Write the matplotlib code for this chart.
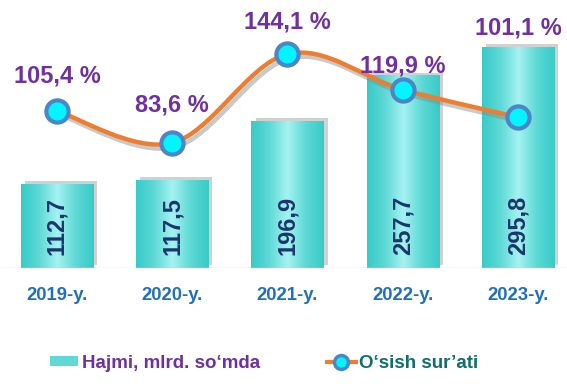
import numpy as np
import matplotlib
matplotlib.use("Agg")
import matplotlib.pyplot as plt
from matplotlib.path import Path
from matplotlib.patches import PathPatch, Patch
from matplotlib.lines import Line2D
import matplotlib.patheffects as pe
from matplotlib.colors import LinearSegmentedColormap

plt.rcParams['font.family'] = ['Liberation Sans', 'DejaVu Sans']

years = ["2019-y.", "2020-y.", "2021-y.", "2022-y.", "2023-y."]
volume = [112.7, 117.5, 196.9, 257.7, 295.8]
growth = [105.4, 83.6, 144.1, 119.9, 101.1]
volume_labels = ["112,7", "117,5", "196,9", "257,7", "295,8"]
growth_labels = ["105,4 %", "83,6 %", "144,1 %", "119,9 %", "101,1 %"]
legend_labels = ["Hajmi, mlrd. so‘mda", "O‘sish sur’ati"]

W, H = 567, 388
fig = plt.figure(figsize=(W/100, H/100), dpi=100)
base_px = 268
ax = fig.add_axes([0, (H-base_px)/H, 1, base_px/H])
ax2 = ax.twinx()
x = np.arange(len(years))
xl = (-57/115.25, (567-57)/115.25)
ax.set_xlim(*xl)
ax2.set_xlim(*xl)
ax.set_ylim(0, 268/0.747)
ax2.set_ylim(83.6 - 125/1.471, 83.6 + 143/1.471)
for a in (ax, ax2):
    a.set_axis_off()

# bars with gradient
bars = ax.bar(x, volume, width=0.625, color='#45D0CE', zorder=2,
              path_effects=[pe.SimplePatchShadow(offset=(3, 2), shadow_rgbFace='#999999', alpha=0.45), pe.Normal()])
cmap = LinearSegmentedColormap.from_list('c', ['#38CBC8', '#5ED9D6', '#A6F3F2', '#5ED9D6', '#38CBC8'])
grad = np.tile(np.linspace(0, 1, 64), (2, 1))
for b in bars:
    x0, y0, w, h = b.get_x(), b.get_y(), b.get_width(), b.get_height()
    im = ax.imshow(grad, cmap=cmap, extent=[x0, x0+w, y0, y0+h], aspect='auto', zorder=2.5, interpolation='bicubic')
    im.set_clip_path(b)
ax.set_xlim(*xl)
ax.set_ylim(0, 268/0.747)

for xi, lab in zip(x, volume_labels):
    ax.text(xi, 13/0.747, lab, rotation=90, ha='center', va='bottom', fontsize=17,
            fontweight='heavy', color='#1B356B', zorder=4)

# baseline
ax.axhline(0, color='#D0D0D0', lw=1, zorder=3)

# smooth line (Bezier, Excel-like)
P = np.column_stack([x, growth]).astype(float)
verts = [P[0]]
codes = [Path.MOVETO]
n = len(P)
for i in range(n-1):
    pm = P[i-1] if i > 0 else P[i]
    pp = P[i+2] if i+2 < n else P[i+1]
    c1 = P[i] + (P[i+1]-pm)/6
    c2 = P[i+1] - (pp-P[i])/6
    verts += [c1, c2, P[i+1]]
    codes += [Path.CURVE4]*3
path = Path(verts, codes)
ax2.add_patch(PathPatch(path, fill=False, edgecolor='#ED7D31', lw=3.2, zorder=5,
                        path_effects=[pe.SimpleLineShadow(offset=(2, -3), shadow_color='#888888', alpha=0.45), pe.Normal()]))
ax2.plot(x, growth, ls='none', marker='o', ms=16, mfc='#00F5FF', mec='#4C86C6', mew=3, zorder=6)

offsets_px = [35, 38, 32, 24, 89]
for xi, g, lab, off in zip(x, growth, growth_labels, offsets_px):
    ax2.text(xi, g + off/1.471, lab, ha='center', va='center', fontsize=17,
             fontweight='bold', color='#7030A0', zorder=7)

# x labels
for xi, lab in zip(x, years):
    ax.text(xi, -28/0.747, lab, ha='center', va='center', fontsize=13.3,
            fontweight='bold', color='#1F6FC0', clip_on=False)

handles = [Patch(facecolor='#5ED9D6', edgecolor='none'),
           Line2D([0], [0], color='#ED7D31', lw=3, marker='o', ms=10, mfc='#00F5FF', mec='#4C86C6', mew=2.5)]
leg = fig.legend(handles, legend_labels, loc='center', bbox_to_anchor=(0.466, 1-363/H), ncol=2,
                 frameon=False, handlelength=1.5, handleheight=0.45, handletextpad=0.2,
                 columnspacing=3.6, prop={'weight': 'bold', 'size': 13.5})
for t, c in zip(leg.get_texts(), ['#7030A0', '#0F6E6E']):
    t.set_color(c)

fig.savefig('out.png', dpi=100)
